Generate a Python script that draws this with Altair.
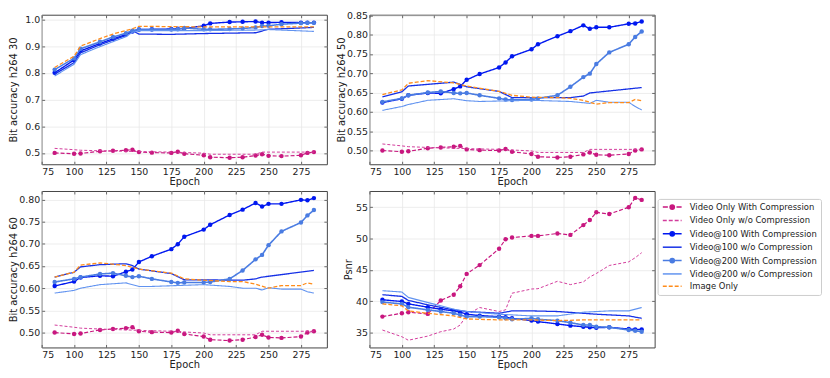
import altair as alt
import pandas as pd

EPOCHS = [85, 100, 105, 120, 130, 140, 145, 150, 160, 175, 180, 185, 200,
          205, 220, 230, 240, 245, 250, 260, 275, 280, 285]

SERIES = ["Video Only With Compression", "Video Only w/o Compression",
          "Video@100 With Compression", "Video@100 w/o Compression",
          "Video@200 With Compression", "Video@200 w/o Compression",
          "Image Only"]
COLORS = ["#c8177f", "#d23c9c", "#0018f0", "#1530e6", "#4a7ce2", "#6193f0", "#ff8c1a"]
DASHES = [[4, 2], [3, 2], [1, 0], [1, 0], [1, 0], [1, 0], [4, 2]]
WIDTHS = [1.2, 1.0, 1.4, 1.3, 1.6, 1.1, 1.3]
MARKED = [True, False, True, False, True, False, False]

# ---- Video only (bit accuracy, shared by the three h264 panels) ----
VO_WITH = [0.500, 0.497, 0.498, 0.506, 0.508, 0.510, 0.512, 0.503, 0.501, 0.500,
           0.504, 0.497, 0.491, 0.484, 0.482, 0.484, 0.490, 0.495, 0.489, 0.488,
           0.491, 0.500, 0.503]
VO_WO_E = [85, 100, 105, 120, 150, 175, 200, 205, 240, 245, 285]
VO_WO = [0.517, 0.512, 0.510, 0.508, 0.505, 0.503, 0.499, 0.495, 0.495, 0.503, 0.503]

# ---- h264 30 ----
P1_V100_WITH = [0.800, 0.848, 0.882, 0.910, 0.927, 0.943, 0.955, 0.962, 0.963, 0.964,
                0.965, 0.966, 0.976, 0.985, 0.990, 0.991, 0.992, 0.988, 0.988, 0.989,
                0.988, 0.988, 0.988]
P1_V200_WITH = [0.812, 0.854, 0.890, 0.916, 0.934, 0.948, 0.958, 0.962, 0.962, 0.962,
                0.963, 0.968, 0.963, 0.963, 0.964, 0.966, 0.970, 0.975, 0.976, 0.982,
                0.986, 0.987, 0.987]
P1_V100_WO_E = [85, 100, 105, 120, 140, 145, 150, 175, 200, 240, 250, 285]
P1_V100_WO = [0.795, 0.838, 0.875, 0.905, 0.940, 0.958, 0.945, 0.944, 0.947, 0.950, 0.963, 0.970]
P1_V200_WO_E = [85, 100, 105, 120, 140, 145, 150, 200, 240, 250, 285]
P1_V200_WO = [0.788, 0.832, 0.868, 0.898, 0.935, 0.952, 0.958, 0.958, 0.960, 0.962, 0.955]
P1_IMG_E = [85, 100, 105, 120, 130, 145, 150, 175, 200, 240, 285]
P1_IMG = [0.820, 0.862, 0.900, 0.928, 0.945, 0.965, 0.974, 0.973, 0.972, 0.972, 0.972]

# ---- h264 50 ----
P2_V100_WITH = [0.624, 0.634, 0.643, 0.649, 0.648, 0.659, 0.666, 0.683, 0.698, 0.715,
                0.728, 0.744, 0.762, 0.775, 0.796, 0.809, 0.824, 0.815, 0.819, 0.819,
                0.828, 0.829, 0.834]
P2_V200_WITH = [0.626, 0.635, 0.643, 0.650, 0.653, 0.649, 0.648, 0.649, 0.643, 0.635,
                0.632, 0.631, 0.632, 0.635, 0.643, 0.665, 0.690, 0.699, 0.724, 0.754,
                0.775, 0.794, 0.808]
P2_V100_WO_E = [85, 100, 105, 140, 150, 175, 185, 230, 240, 245, 285]
P2_V100_WO = [0.639, 0.652, 0.667, 0.677, 0.665, 0.653, 0.637, 0.637, 0.641, 0.649, 0.663]
P2_V200_WO_E = [85, 100, 105, 120, 140, 150, 160, 200, 230, 245, 250, 260, 275, 280, 285]
P2_V200_WO = [0.604, 0.614, 0.619, 0.630, 0.634, 0.629, 0.627, 0.630, 0.627, 0.622,
              0.630, 0.625, 0.625, 0.614, 0.605]
P2_IMG_E = [85, 100, 105, 120, 140, 150, 175, 185, 200, 220, 230, 240, 250, 260, 275, 280, 285]
P2_IMG = [0.645, 0.657, 0.674, 0.681, 0.675, 0.667, 0.653, 0.643, 0.638, 0.637, 0.635,
          0.630, 0.620, 0.624, 0.624, 0.632, 0.629]

# ---- h264 60 ----
P3_V100_WITH = [0.605, 0.615, 0.624, 0.628, 0.627, 0.637, 0.642, 0.659, 0.672, 0.688,
                0.699, 0.716, 0.732, 0.743, 0.765, 0.777, 0.792, 0.784, 0.790, 0.790,
                0.799, 0.798, 0.803]
P3_V200_WITH = [0.614, 0.621, 0.625, 0.632, 0.634, 0.628, 0.625, 0.627, 0.621, 0.614,
                0.612, 0.613, 0.613, 0.614, 0.621, 0.640, 0.665, 0.675, 0.697, 0.728,
                0.748, 0.764, 0.776]
P3_V100_WO_E = [85, 100, 105, 120, 140, 145, 150, 175, 185, 230, 240, 245, 285]
P3_V100_WO = [0.625, 0.636, 0.648, 0.653, 0.655, 0.651, 0.643, 0.633, 0.619, 0.618,
              0.621, 0.625, 0.640]
P3_V200_WO_E = [85, 100, 105, 120, 140, 150, 160, 200, 220, 230, 240, 245, 250, 260, 275, 280, 285]
P3_V200_WO = [0.589, 0.595, 0.600, 0.608, 0.612, 0.604, 0.604, 0.608, 0.604, 0.600,
              0.600, 0.596, 0.601, 0.598, 0.598, 0.592, 0.589]
P3_IMG_E = [85, 100, 105, 120, 140, 150, 175, 185, 200, 220, 230, 240, 250, 260, 275, 280, 285]
P3_IMG = [0.625, 0.636, 0.652, 0.657, 0.651, 0.643, 0.634, 0.621, 0.618, 0.615, 0.615,
          0.609, 0.600, 0.606, 0.606, 0.612, 0.609]

# ---- PSNR ----
P4_VO_WITH = [37.57, 38.10, 38.27, 38.00, 40.15, 41.06, 42.40, 44.38, 45.78, 48.40,
              49.90, 50.17, 50.44, 50.44, 50.82, 50.60, 52.16, 52.96, 54.20, 53.93,
              55.00, 56.50, 56.18]
P4_VO_WO = [35.43, 34.36, 33.80, 34.46, 35.16, 35.59, 36.23, 37.84, 39.02, 38.38,
            38.65, 41.30, 41.97, 42.02, 43.20, 42.67, 43.10, 43.90, 44.44, 45.72,
            46.30, 46.96, 47.76]
P4_V100_WITH = [40.25, 39.98, 39.60, 39.07, 38.75, 38.48, 38.27, 37.95, 37.73, 37.57,
                37.46, 37.30, 36.93, 36.77, 36.40, 36.13, 35.96, 35.86, 35.80, 35.86,
                35.59, 35.53, 35.53]
P4_V200_WITH = [39.88, 39.60, 39.07, 38.64, 38.38, 38.10, 37.84, 37.57, 37.57, 37.46,
                37.30, 37.14, 37.30, 37.14, 36.93, 36.60, 36.23, 36.23, 35.96, 35.86,
                35.43, 35.32, 35.16]
P4_V100_WO_E = [85, 100, 105, 120, 140, 150, 175, 185, 200, 220, 240, 250, 275, 285]
P4_V100_WO = [41.06, 40.79, 40.15, 39.45, 38.64, 38.38, 38.10, 38.48, 38.48, 38.38,
              38.10, 37.95, 37.68, 37.30]
P4_V200_WO_E = [85, 100, 105, 120, 140, 150, 175, 200, 220, 240, 250, 260, 275, 285]
P4_V200_WO = [41.70, 41.49, 40.63, 39.82, 38.75, 38.38, 37.95, 37.68, 37.68, 38.27,
              38.38, 38.48, 38.48, 39.02]
P4_IMG_E = [85, 100, 105, 120, 140, 150, 175, 200, 220, 240, 285]
P4_IMG = [39.60, 39.29, 38.48, 38.10, 37.68, 37.20, 37.04, 37.04, 36.93, 37.04, 37.04]

X_TICKS = [75, 100, 125, 150, 175, 200, 225, 250, 275]

PANELS = [
    dict(title="Bit accuracy h264 30", domain=[0.4575, 1.0175], ext=26,
         ticks=[0.5, 0.6, 0.7, 0.8, 0.9, 1.0], fmt=".1f",
         data=[(EPOCHS, VO_WITH), (VO_WO_E, VO_WO), (EPOCHS, P1_V100_WITH),
               (P1_V100_WO_E, P1_V100_WO), (EPOCHS, P1_V200_WITH),
               (P1_V200_WO_E, P1_V200_WO), (P1_IMG_E, P1_IMG)]),
    dict(title="Bit accuracy h264 50", domain=[0.4645, 0.8515], ext=26,
         ticks=[0.50, 0.55, 0.60, 0.65, 0.70, 0.75, 0.80, 0.85], fmt=".2f",
         data=[(EPOCHS, VO_WITH), (VO_WO_E, VO_WO), (EPOCHS, P2_V100_WITH),
               (P2_V100_WO_E, P2_V100_WO), (EPOCHS, P2_V200_WITH),
               (P2_V200_WO_E, P2_V200_WO), (P2_IMG_E, P2_IMG)]),
    dict(title="Bit accuracy h264 60", domain=[0.4665, 0.819], ext=26,
         ticks=[0.50, 0.55, 0.60, 0.65, 0.70, 0.75, 0.80], fmt=".2f",
         data=[(EPOCHS, VO_WITH), (VO_WO_E, VO_WO), (EPOCHS, P3_V100_WITH),
               (P3_V100_WO_E, P3_V100_WO), (EPOCHS, P3_V200_WITH),
               (P3_V200_WO_E, P3_V200_WO), (P3_IMG_E, P3_IMG)]),
    dict(title="Psnr", domain=[32.65, 57.6], ext=19,
         ticks=[35, 40, 45, 50, 55], fmt="d",
         data=[(EPOCHS, P4_VO_WITH), (EPOCHS, P4_VO_WO), (EPOCHS, P4_V100_WITH),
               (P4_V100_WO_E, P4_V100_WO), (EPOCHS, P4_V200_WITH),
               (P4_V200_WO_E, P4_V200_WO), (P4_IMG_E, P4_IMG)]),
]

# Legend symbols: custom paths (unit = 3px), line segments plus optional filled dot
DOT = "M2.9,0A0.73,0.73 0 1,1 1.44,0A0.73,0.73 0 1,1 2.9,0Z"
SOLID = "M-1,0H5.33"
DASHED = "M-1,0H0.33M1,0H2.33M3,0H4.33M5,0H5.33"
DASHDOT = "M-1,0H0.7M3.6,0H5.33" + DOT
PATHS = [DASHDOT, DASHED, SOLID + DOT, SOLID, SOLID + DOT, SOLID, DASHED]

W, H1, H2 = 288, 151, 158
TICK = dict(ticks=True, tickSize=3, offset=-3, tickColor="#444444", tickWidth=0.8)


def panel(p, height, with_legend=False):
    rows = []
    for s, (ep, vals) in zip(SERIES, p["data"]):
        for e, v in zip(ep, vals):
            rows.append({"series": s, "epoch": e, "value": v})
    df = pd.DataFrame(rows)
    base = alt.Chart(df)
    xs = alt.Scale(domain=[75, 295], nice=False, zero=False)
    ys = alt.Scale(domain=p["domain"], nice=False, zero=False)
    x_main = alt.X("epoch:Q", scale=xs,
                   axis=alt.Axis(values=X_TICKS, title="Epoch", format="d", **TICK))
    y_main = alt.Y("value:Q", scale=ys,
                   axis=alt.Axis(values=p["ticks"], format=p["fmt"], title=p["title"],
                                 minExtent=p["ext"], maxExtent=p["ext"], **TICK))
    x_plain = alt.X("epoch:Q", scale=xs, axis=None)
    y_plain = alt.Y("value:Q", scale=ys, axis=None)
    layers = []
    first = True
    for i, s in enumerate(SERIES):
        sub = base.transform_filter(alt.datum.series == s)
        xe, ye = (x_main, y_main) if first else (x_plain, y_plain)
        first = False
        layers.append(sub.mark_line(color=COLORS[i], strokeDash=DASHES[i],
                                    strokeWidth=WIDTHS[i]).encode(x=xe, y=ye))
        if MARKED[i]:
            layers.append(sub.mark_circle(color=COLORS[i], size=20, opacity=1)
                          .encode(x=x_plain, y=y_plain))
    # inward tick marks on the top and right frame edges
    layers.append(
        base.transform_filter("false").mark_point().encode(
            x=alt.X("epoch:Q", scale=xs,
                    axis=alt.Axis(orient="top", values=X_TICKS, labels=False, title=None,
                                  grid=False, domain=False, minExtent=0, maxExtent=0, **TICK)),
            y=alt.Y("value:Q", scale=ys,
                    axis=alt.Axis(orient="right", values=p["ticks"], labels=False, title=None,
                                  grid=False, domain=False, minExtent=0, maxExtent=0, **TICK)),
        )
    )
    if with_legend:
        leg = alt.Legend(title=None)
        layers.append(
            base.transform_filter("false")
            .mark_point(filled=True, opacity=1, size=36)
            .encode(
                x=x_plain, y=y_plain,
                stroke=alt.Stroke("series:N", scale=alt.Scale(domain=SERIES, range=COLORS), legend=leg),
                fill=alt.Fill("series:N", scale=alt.Scale(domain=SERIES, range=COLORS), legend=leg),
                shape=alt.Shape("series:N", scale=alt.Scale(domain=SERIES, range=PATHS), legend=leg),
            )
        )
    return (alt.layer(*layers).properties(width=W, height=height)
            .resolve_axis(x="independent", y="independent"))


row1 = alt.hconcat(panel(PANELS[0], H1), panel(PANELS[1], H1), spacing=8)
row2 = alt.hconcat(panel(PANELS[2], H2), panel(PANELS[3], H2, with_legend=True), spacing=15)

chart = (
    alt.vconcat(row1, row2, spacing=3)
    .properties(padding={"left": 0, "top": 0, "right": 0, "bottom": 0})
    .configure_view(stroke="#444444", strokeWidth=1)
    .configure_axis(labelFont="DejaVu Sans", labelFontSize=9.5, titleFont="DejaVu Sans",
                    titleFontSize=10, titleFontWeight="normal", labelColor="#222222",
                    titleColor="#222222", ticks=False, domain=False,
                    gridColor="#e8e8e8", gridWidth=0.8, labelPadding=2)
    .configure_axisY(titlePadding=0)
    .configure_axisX(titlePadding=1)
    .configure_legend(orient="none", legendX=622, legendY=186, fillColor="white",
                      strokeColor="#cccccc", padding=4, cornerRadius=2,
                      labelFont="DejaVu Sans", labelFontSize=8.5, labelColor="#222222",
                      symbolSize=36, symbolStrokeWidth=1.5, labelOffset=20,
                      rowPadding=3.5)
)

chart.save("out.html", embed_options={"renderer": "svg", "actions": False})
